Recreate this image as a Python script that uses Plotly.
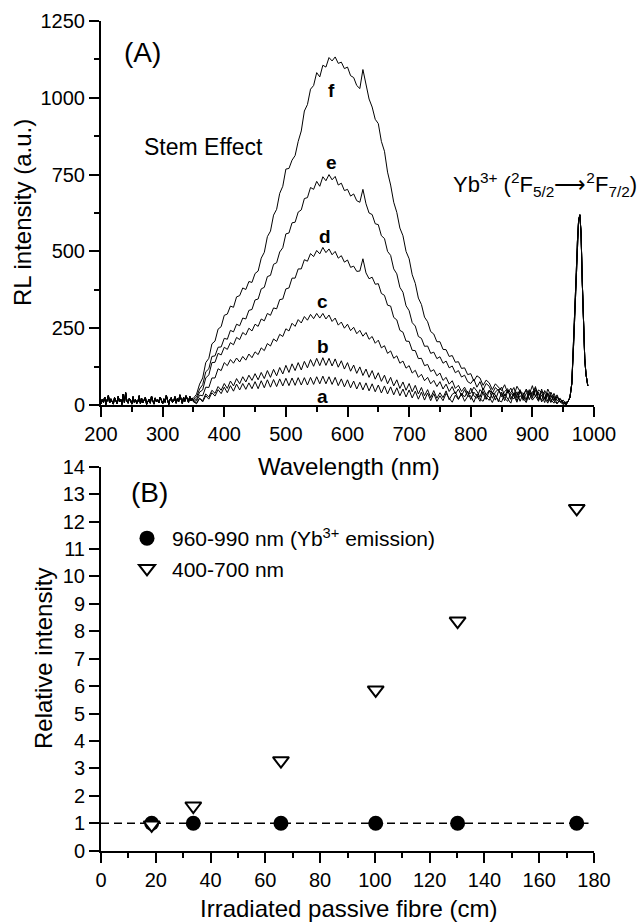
import plotly.graph_objects as go

# ---------------- Panel A data (RL spectra) ----------------
wl_base = list(range(200, 350, 2))    # 200 ... 348 nm, 2 nm sampling (background)
wl_curve = list(range(350, 960, 5))   # 350 ... 955 nm, 5 nm sampling

# common noisy background 200-348 nm
baseline = [4, 18, 9, 26, 2, 14, 31, 7, 20, 11, 3, 24, 16, 5, 28, 10, 19, 2, 35, 8,
            40, 13, 6, 22, 15, 3, 27, 9, 18, 5, 12, 30, 4, 21, 8, 16, 25, 2, 11, 19,
            6, 29, 14, 3, 23, 10, 17, 7, 26, 12, 4, 20, 9, 31, 15, 2, 18, 24, 8, 13,
            27, 6, 21, 11, 33, 16, 5, 25, 12, 30, 19, 9, 28, 14, 22]

# curves from 350 to 955 nm (5 nm steps)
curve_f = [22, 35, 68, 88, 138, 152, 199, 208, 247, 255,
           292, 296, 322, 318, 352, 356, 381, 376, 402, 399,
           428, 436, 478, 497, 548, 566, 618, 637, 689, 712,
           768, 770, 797, 812, 858, 892, 957, 978, 1028, 1040,
           1082, 1068, 1106, 1100, 1131, 1120, 1133, 1112, 1116, 1095,
           1100, 1072, 1066, 1040, 1030, 1092, 1045, 996, 970, 930,
           916, 858, 826, 758, 716, 660, 627, 576, 551, 500,
           476, 424, 396, 348, 327, 286, 271, 239, 231, 206,
           206, 181, 180, 158, 161, 139, 141, 119, 121, 99,
           102, 78, 95, 88, 64, 81, 72, 50, 69, 58,
           47, 66, 39, 55, 30, 61, 44, 26, 52, 35,
           63, 28, 49, 41, 18, 52, 30, 14, 33, 9, 16, 4]

curve_e = [18, 26, 52, 66, 108, 118, 158, 160, 188, 189,
           217, 214, 243, 238, 263, 258, 283, 280, 308, 311,
           342, 345, 378, 383, 418, 422, 458, 463, 498, 512,
           557, 560, 593, 595, 628, 635, 672, 675, 708, 702,
           728, 712, 743, 730, 750, 733, 744, 716, 722, 698,
           702, 680, 687, 665, 660, 702, 655, 625, 620, 590,
           587, 551, 542, 500, 487, 443, 427, 383, 367, 323,
           307, 268, 257, 223, 217, 191, 192, 168, 172, 151,
           157, 136, 143, 121, 127, 105, 112, 91, 97, 76,
           70, 84, 58, 76, 49, 70, 61, 38, 57, 46,
           58, 29, 49, 40, 57, 22, 46, 37, 18, 50,
           34, 60, 20, 44, 38, 12, 42, 20, 26, 12, 6, 10]

curve_d = [15, 18, 42, 49, 88, 98, 138, 139, 168, 163,
           188, 181, 203, 196, 220, 213, 236, 228, 250, 241,
           263, 256, 280, 274, 298, 292, 316, 313, 343, 345,
           378, 381, 413, 413, 443, 443, 473, 468, 493, 483,
           503, 492, 513, 496, 508, 489, 500, 478, 486, 465,
           472, 448, 452, 435, 436, 476, 430, 411, 416, 393,
           395, 363, 357, 325, 322, 285, 277, 243, 237, 208,
           207, 178, 177, 151, 152, 128, 132, 109, 115, 95,
           104, 80, 90, 68, 79, 54, 64, 44, 58, 38,
           38, 58, 45, 26, 55, 33, 48, 22, 42, 52,
           27, 44, 53, 18, 40, 31, 50, 15, 38, 47,
           22, 55, 36, 15, 47, 25, 8, 38, 14, 22, 3, 8]

curve_c = [12, 13, 32, 30, 58, 57, 88, 88, 118, 112,
           138, 128, 148, 136, 153, 140, 158, 146, 166, 154,
           173, 164, 186, 177, 200, 192, 215, 207, 230, 223,
           248, 241, 266, 256, 278, 267, 288, 276, 295, 281,
           298, 283, 298, 280, 293, 272, 283, 260, 270, 250,
           263, 242, 253, 232, 243, 224, 236, 214, 223, 201,
           211, 186, 193, 168, 176, 152, 160, 136, 143, 120,
           128, 104, 113, 90, 100, 79, 90, 69, 80, 60,
           76, 52, 68, 44, 60, 36, 52, 30, 50, 28,
           55, 30, 22, 50, 38, 18, 47, 40, 16, 44,
           36, 14, 46, 28, 20, 43, 12, 36, 48, 17,
           44, 30, 12, 52, 20, 36, 10, 30, 4, 18, 9, 2]

curve_b = [10, 6, 22, 14, 36, 26, 48, 38, 60, 48,
           70, 54, 78, 62, 86, 69, 92, 75, 97, 80,
           102, 82, 106, 86, 112, 90, 116, 95, 122, 101,
           129, 106, 134, 112, 138, 114, 142, 121, 148, 126,
           152, 128, 154, 129, 152, 127, 150, 123, 144, 117,
           138, 110, 130, 103, 124, 96, 117, 90, 112, 84,
           105, 77, 97, 69, 90, 62, 82, 54, 75, 48,
           70, 43, 64, 36, 57, 30, 50, 24, 47, 22,
           40, 24, 46, 17, 35, 42, 20, 38, 26, 45,
           18, 42, 30, 12, 44, 25, 15, 40, 33, 10,
           42, 22, 12, 38, 30, 9, 45, 26, 14, 41,
           28, 48, 15, 33, 8, 40, 18, 6, 28, 10, 2, 6]

curve_a = [12, 4, 22, 10, 30, 19, 40, 29, 50, 37,
           58, 40, 63, 45, 68, 49, 70, 51, 72, 53,
           76, 53, 79, 56, 82, 58, 83, 60, 85, 62,
           87, 63, 88, 64, 89, 65, 89, 65, 90, 67,
           92, 69, 94, 69, 92, 67, 90, 63, 85, 59,
           82, 56, 78, 52, 74, 49, 72, 46, 69, 43,
           65, 39, 62, 36, 59, 33, 56, 30, 52, 26,
           49, 23, 45, 19, 42, 16, 39, 14, 37, 12,
           30, 14, 38, 22, 9, 32, 18, 36, 12, 28,
           30, 9, 36, 20, 12, 34, 26, 8, 31, 15,
           10, 35, 20, 6, 38, 14, 30, 22, 8, 36,
           16, 30, 42, 10, 24, 6, 32, 14, 4, 20, 8, 0]

# Yb3+ emission peak (common to all spectra)
peak_wl = [958, 961, 964, 967, 969, 971, 973, 975, 977, 979, 981, 983, 985, 987, 989, 990]
peak_val = [12, 25, 70, 200, 300, 420, 530, 600, 619, 560, 400, 250, 150, 100, 70, 62]

curve_names = ["a", "b", "c", "d", "e", "f"]
curve_label_x = [560, 560, 560, 563, 574, 574]
curve_label_y = [27, 190, 336, 548, 788, 1025]

# ---------------- Panel B data ----------------
fibre_len = [18.5, 33.7, 65.7, 100.3, 130.2, 173.7]
yb_rel = [1, 1, 1, 1, 1, 1]
vis_rel = [0.94, 1.63, 3.28, 5.86, 8.37, 12.48]
ref_x = [0, 178]
ref_y = [1, 1]

FONT = "Arial, 'Liberation Sans', sans-serif"
W, H = 641, 923

fig = go.Figure()

curves = [curve_a, curve_b, curve_c, curve_d, curve_e, curve_f]
x_full = wl_base + wl_curve + peak_wl
for name, c in zip(curve_names, curves):
    fig.add_trace(go.Scatter(
        x=x_full, y=baseline + c + peak_val, mode="lines",
        line=dict(color="black", width=1), showlegend=False, name=name,
        xaxis="x", yaxis="y"))

# Panel B
fig.add_trace(go.Scatter(x=ref_x, y=ref_y, mode="lines",
                         line=dict(color="black", width=1.5, dash="8px,5px"),
                         showlegend=False, xaxis="x2", yaxis="y2"))
fig.add_trace(go.Scatter(x=fibre_len, y=yb_rel, mode="markers",
                         name="960-990 nm (Yb<sup>3+</sup> emission)",
                         marker=dict(symbol="circle", size=15, color="black"),
                         xaxis="x2", yaxis="y2"))
fig.add_trace(go.Scatter(x=fibre_len, y=vis_rel, mode="markers",
                         name="400-700 nm",
                         marker=dict(symbol="triangle-down", size=14, color="white",
                                     line=dict(color="black", width=2)),
                         xaxis="x2", yaxis="y2"))

def px_x(p):
    return p / W

def px_y(p):
    return 1 - p / H

axis_common = dict(showline=True, linecolor="black", linewidth=2, ticks="outside",
                   ticklen=10, tickwidth=2, tickcolor="black", showgrid=False,
                   zeroline=False, automargin=False,
                   tickfont=dict(family=FONT, size=20, color="black"))
minor_common = dict(ticklen=5, tickwidth=2, ticks="outside", tickcolor="black", showgrid=False)

fig.update_layout(
    template="none",
    width=W, height=H, margin=dict(l=0, r=0, t=0, b=0, pad=0, autoexpand=False),
    paper_bgcolor="white", plot_bgcolor="white",
    font=dict(family=FONT, color="black"),
    xaxis=dict(domain=[px_x(101), px_x(594)], range=[200, 1000], dtick=100,
               minor=dict(dtick=50, **minor_common), anchor="y", **axis_common),
    yaxis=dict(domain=[px_y(405), px_y(21)], range=[0, 1250], dtick=250,
               minor=dict(dtick=125, **minor_common), anchor="x", **axis_common),
    xaxis2=dict(domain=[px_x(101), px_x(594)], range=[0, 180], dtick=20,
                minor=dict(dtick=10, **minor_common), anchor="y2", **axis_common),
    yaxis2=dict(domain=[px_y(850.7), px_y(466.7)], range=[0, 14], dtick=1,
                anchor="x2", **axis_common),
    legend=dict(x=px_x(122), y=px_y(518), xanchor="left", yanchor="top",
                bgcolor="rgba(0,0,0,0)", borderwidth=0, itemwidth=40,
                font=dict(family=FONT, size=21, color="black"),
                tracegroupgap=0, itemsizing="trace"),
    showlegend=True,
)

def txt(x, y, text, size, **kw):
    d = dict(x=px_x(x), y=px_y(y), xref="paper", yref="paper", text=text,
             showarrow=False, xanchor="center", yanchor="middle",
             font=dict(family=FONT, size=size, color="black"))
    d.update(kw)
    return d

ann = []
# curve letters
for name, lx, ly in zip(curve_names, curve_label_x, curve_label_y):
    ann.append(dict(x=lx, y=ly, xref="x", yref="y", text="<b>%s</b>" % name,
                    showarrow=False, xanchor="center", yanchor="middle",
                    font=dict(family=FONT, size=19, color="black")))
# panel labels and texts
ann.append(txt(142.5, 52, "(A)", 28))
ann.append(txt(149, 493, "(B)", 28))
ann.append(txt(203.5, 147, "Stem Effect", 23))
ann.append(txt(639, 185,
               "Yb<sup>3+</sup> (<sup>2</sup>F<sub>5/2</sub>\u27f6<sup>2</sup>F<sub>7/2</sub>)",
               22, xanchor="right"))
# axis titles
ann.append(txt(22, 213, "RL intensity (a.u.)", 24, textangle=-90))
ann.append(txt(349, 466, "Wavelength (nm)", 24))
ann.append(txt(43, 659, "Relative intensity", 24, textangle=-90))
ann.append(txt(348, 908, "Irradiated passive fibre (cm)", 24))
fig.update_layout(annotations=ann)

fig.write_html("out.html",
               config={"displayModeBar": False},
               post_script="document.body.style.margin='0px';"
                           "document.body.style.padding='0px';"
                           "document.body.style.overflow='hidden';")
